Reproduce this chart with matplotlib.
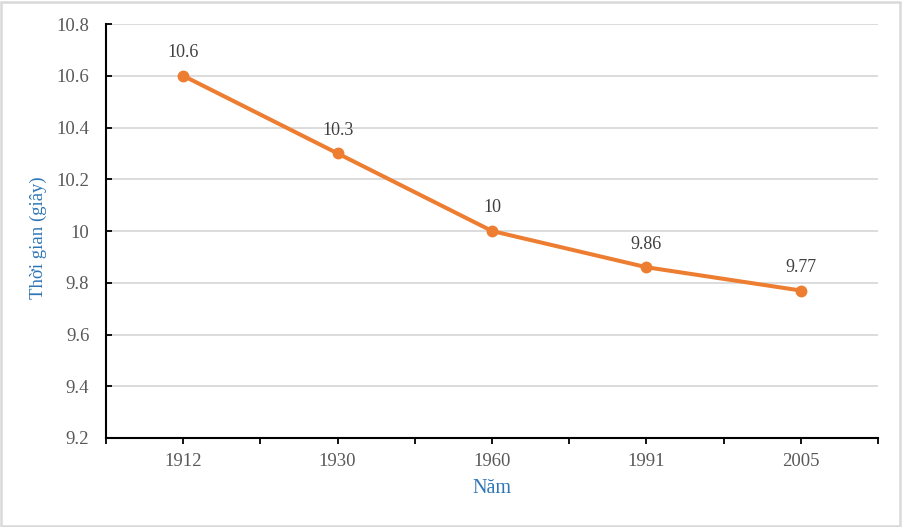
import numpy as np
import matplotlib.pyplot as plt
from matplotlib.patches import Rectangle

# du lieu
nam = ['1912', '1930', '1960', '1991', '2005']
thoi_gian = [10.6, 10.3, 10.0, 9.86, 9.77]
nhan = ['10.6', '10.3', '10', '9.86', '9.77']

plt.rcParams['font.family'] = ['Liberation Serif', 'DejaVu Serif']

fig = plt.figure(figsize=(9.02, 5.27), dpi=100)
ax = fig.add_axes([106/902, 1-438/527, (878-106)/902, (438-24)/527])

x = np.arange(len(nam))
ax.plot(x, thoi_gian, color='#ed7d31', lw=2.9, marker='o', ms=7.5, zorder=3)
for xi, yi, t in zip(x, thoi_gian, nhan):
    ax.annotate(t, (xi, yi), xytext=(0, 10.5), textcoords='offset points',
                ha='center', va='bottom', fontsize=13, color='#404040')

ax.set_xlim(-0.5, len(nam) - 0.5)
ax.set_ylim(9.2, 10.8)
ax.set_yticks(np.arange(9.2, 10.81, 0.2))
ax.set_yticklabels(['%.1f' % v if abs(v - 10) > 1e-6 else '10' for v in np.arange(9.2, 10.81, 0.2)])
ax.yaxis.grid(True, color='#d9d9d9', lw=1.3)
ax.set_axisbelow(True)

ax.set_xticks(x)
ax.set_xticklabels(nam)
ax.set_xticks(np.arange(-0.5, len(nam), 1), minor=True)
ax.tick_params(axis='x', which='both', direction='out', length=4, width=1.3, color='black',
               labelsize=13.5, labelcolor='#595959', pad=7)
ax.tick_params(axis='y', direction='in', length=4, width=1.3, color='black',
               labelsize=13.5, labelcolor='#595959', pad=12)

for s in ['top', 'right']:
    ax.spines[s].set_visible(False)
for s in ['left', 'bottom']:
    ax.spines[s].set_linewidth(1.5)
    ax.spines[s].set_color('black')

ax.set_ylabel('Thời gian (giây)', color='#2e75b6', fontsize=13.5)
ax.yaxis.set_label_coords(-0.077, 0.483)
ax.set_xlabel('Năm', color='#2e75b6', fontsize=14.5, labelpad=6)

fig.patches.append(Rectangle((0.001, 0.002), 0.997, 0.995, transform=fig.transFigure,
                             fill=False, edgecolor='#d9d9d9', lw=1.8))

fig.savefig('out.png', dpi=100)
